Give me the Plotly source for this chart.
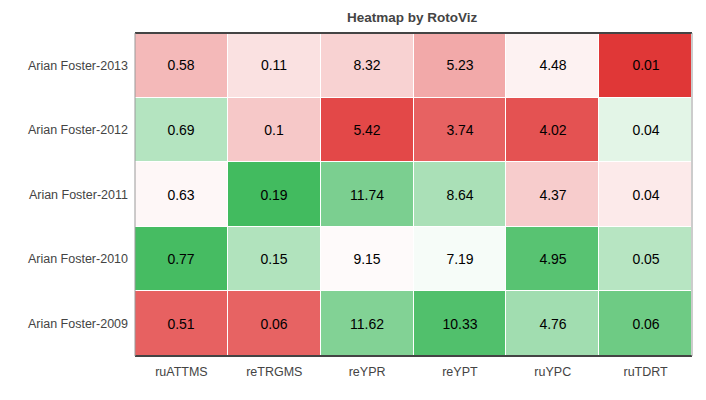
import numpy as np
import plotly.graph_objects as go

players = ["Arian Foster-2013", "Arian Foster-2012", "Arian Foster-2011",
           "Arian Foster-2010", "Arian Foster-2009"]
metrics = ["ruATTMS", "reTRGMS", "reYPR", "reYPT", "ruYPC", "ruTDRT"]

ruATTMS = [0.58, 0.69, 0.63, 0.77, 0.51]
reTRGMS = [0.11, 0.10, 0.19, 0.15, 0.06]
reYPR = [8.32, 5.42, 11.74, 9.15, 11.62]
reYPT = [5.23, 3.74, 8.64, 7.19, 10.33]
ruYPC = [4.48, 4.02, 4.37, 4.95, 4.76]
ruTDRT = [0.01, 0.044, 0.037, 0.05, 0.06]

columns = [ruATTMS, reTRGMS, reYPR, reYPT, ruYPC, ruTDRT]
vals = np.array(columns, dtype=float).T  # rows = players, cols = metrics

# column-wise z-score for colouring
mean = vals.mean(axis=0)
std = vals.std(axis=0, ddof=1)
z = (vals - mean) / std

text = [[f"{round(v, 2):g}" for v in row] for row in vals]

ZM = 1.7
colorscale = [
    [0.0, "#de2a2a"],
    [0.5, "#ffffff"],
    [1.0, "#14aa38"],
]

fig = go.Figure(go.Heatmap(
    z=z, x=metrics, y=players,
    text=text, texttemplate="%{text}",
    textfont=dict(family="Liberation Sans, Arial, sans-serif", size=14, color="#000"),
    colorscale=colorscale, zmin=-ZM, zmax=ZM, showscale=False,
    xgap=1, ygap=1, hoverinfo="skip",
))

fig.update_layout(
    width=698, height=392,
    margin=dict(l=127, r=14, t=25, b=44),
    paper_bgcolor="white", plot_bgcolor="white",
    title=dict(text="<b>Heatmap by RotoViz</b>", x=0.579, xanchor="center",
               y=0.977, yanchor="middle",
               font=dict(family="Liberation Sans, Arial, sans-serif", size=13.5, color="#444")),
    font=dict(family="Liberation Sans, Arial, sans-serif", size=12.5, color="#444"),
    showlegend=False,
)
fig.update_xaxes(showgrid=False, zeroline=False, ticks="", ticklabelstandoff=6,
                 showline=False, fixedrange=True)
fig.update_yaxes(showgrid=False, zeroline=False, ticks="", ticklabelstandoff=6,
                 autorange="reversed", showline=False, fixedrange=True)

# frame: dark top/bottom, light sides
fig.add_shape(type="line", xref="paper", yref="paper", x0=0, x1=1, y0=1, y1=1,
              line=dict(color="#444", width=2))
fig.add_shape(type="line", xref="paper", yref="paper", x0=0, x1=1, y0=0, y1=0,
              line=dict(color="#444", width=2))
fig.add_shape(type="line", xref="paper", yref="paper", x0=0, x1=0, y0=0, y1=1,
              line=dict(color="#999", width=1))
fig.add_shape(type="line", xref="paper", yref="paper", x0=1, x1=1, y0=0, y1=1,
              line=dict(color="#999", width=1))

fig.write_html("out.html")
